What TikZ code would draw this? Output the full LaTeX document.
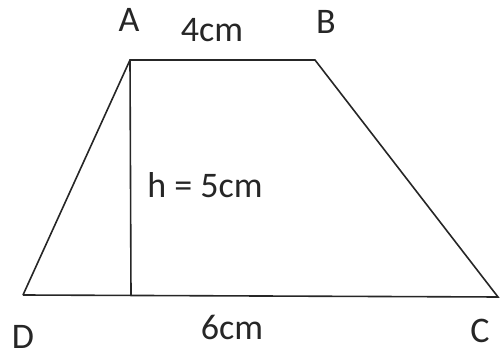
\documentclass[tikz,border=0pt]{standalone}
\usepackage{fontspec}
\setmainfont{Carlito}
\begin{document}
\begin{tikzpicture}[x=1pt,y=1pt,
  lbl/.style={inner sep=0pt,font=\fontsize{36}{42}\selectfont,text=black!85},
  edge/.style={line width=1.6pt,black!85}]
\useasboundingbox (0,0) rectangle (501,356);
\coordinate (A) at (130,296);
\coordinate (B) at (315,296);
\coordinate (C) at (498,59);
\coordinate (D) at (23,61);
\coordinate (H) at (131,61);
\draw[edge] (D) -- (A) -- (B) -- (C) -- (D);
\draw[edge] (A) -- (H);
\node[lbl] (lA) at (129,336) {A};
\node[lbl] (lB) at (326,334) {B};
\node[lbl] (lC) at (480,25) {C};
\node[lbl] (lD) at (23,19) {D};
\node[lbl] (top) at (212,326) {4cm};
\node[lbl] (bot) at (232,29) {6cm};
\node[lbl] (h) at (205,171) {h = 5cm};
\end{tikzpicture}
\end{document}
